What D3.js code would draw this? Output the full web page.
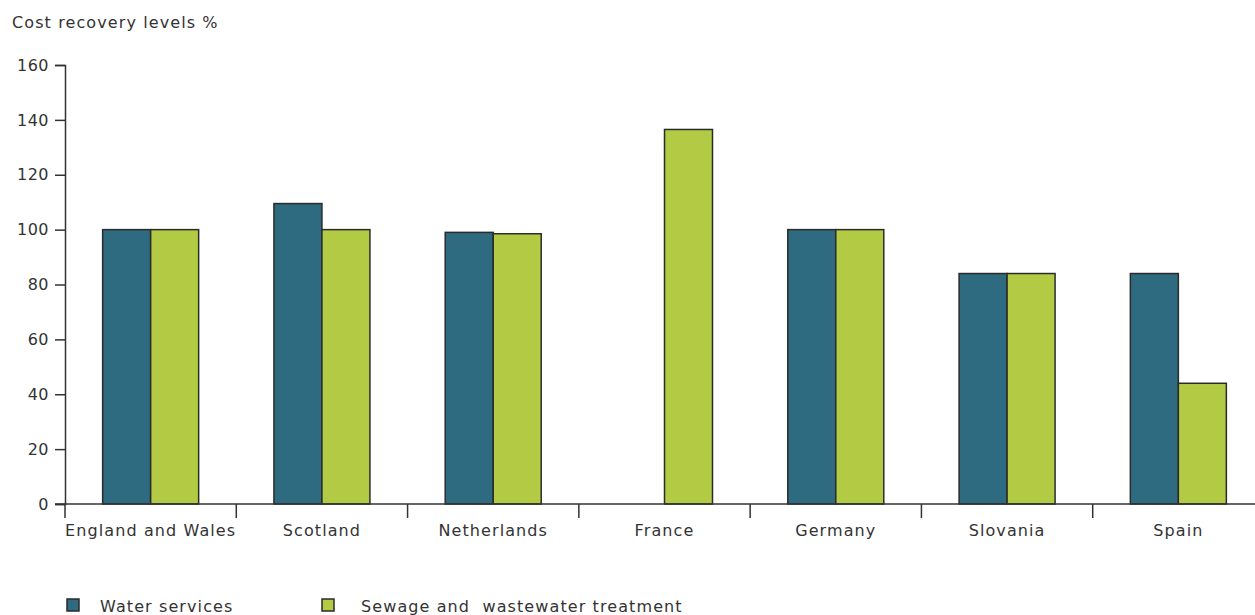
<!DOCTYPE html>
<html>
<head>
<script src="https://d3js.org/d3.v7.min.js"></script>
<style>
  body { margin: 0; background: #fff; }
  text { font-family: "DejaVu Sans", Verdana, sans-serif; fill: #333; letter-spacing: 1.1px; }
</style>
</head>
<body>
<svg class="chart" width="1255" height="615"></svg>
<script>
  var countries = ["England and Wales", "Scotland", "Netherlands", "France", "Germany", "Slovania", "Spain"]
  var water = [100, 109.5, 99, null, 100, 84, 84]
  var sewage = [100, 100, 98.5, 136.5, 100, 84, 44]
  var yTicks = [0, 20, 40, 60, 80, 100, 120, 140, 160]
  var seriesNames = ["Water services", "Sewage and  wastewater treatment"]
  var colors = ["#2f6b80", "#b3cb44"]

  var svg = d3.select("svg")
  var mLeft = 65, mTop = 65, mBottom = 504, mRight = 1264

  var x = d3.scaleBand().domain(countries).range([mLeft, mRight])
  var y = d3.scaleLinear().domain([0, 160]).range([mBottom, mTop])

  var rows = countries.map((c, i) => ({country: c, vals: [water[i], sewage[i]]}))

  // bars
  var barW = 48
  var g = svg.selectAll("g.grp").data(rows).enter().append("g").attr("class", "grp")
  g.selectAll("rect")
    .data(d => d.vals.map((v, k) => ({country: d.country, v: v, k: k})).filter(e => e.v != null))
    .enter().append("rect")
    .attr("x", e => x(e.country) + x.bandwidth() / 2 - barW + e.k * barW)
    .attr("width", barW)
    .attr("y", e => y(e.v))
    .attr("height", e => mBottom - y(e.v))
    .style("fill", e => colors[e.k])
    .style("stroke", "#2b2b2b")
    .style("stroke-width", 1.5)

  // y axis
  var yAxis = d3.axisLeft(y).tickValues(yTicks).tickSize(10).tickPadding(6)
  var ya = svg.append("g").attr("transform", `translate(${mLeft},0)`).call(yAxis)
  ya.selectAll("text").style("font-size", "16px").style("letter-spacing", "0.5px")
  ya.selectAll("line, path").style("stroke", "#333").style("stroke-width", 1.5)

  // x axis
  var xAxis = d3.axisBottom(x).tickSize(0).tickPadding(21)
  var xa = svg.append("g").attr("transform", `translate(0,${mBottom})`).call(xAxis)
  xa.select("path").attr("d", `M${mLeft - 10},0H${mRight}`)
  xa.selectAll("text").style("font-size", "16px")
  xa.selectAll("line, path").style("stroke", "#333").style("stroke-width", 1.5)
  xa.selectAll("line.sep").data(countries.slice(1)).enter().append("line").attr("class", "sep")
    .attr("x1", d => x(d)).attr("x2", d => x(d)).attr("y1", 0).attr("y2", 14)
    .style("stroke", "#333").style("stroke-width", 1.5)
  xa.append("line").attr("x1", mLeft).attr("x2", mLeft).attr("y1", 0).attr("y2", 14)
    .style("stroke", "#333").style("stroke-width", 1.5)

  // title
  svg.append("text").attr("x", 12).attr("y", 28).style("font-size", "16px").text("Cost recovery levels %")

  // legend
  var legX = [67, 322]
  var lg = svg.selectAll("g.leg").data(seriesNames).enter().append("g").attr("class", "leg")
    .attr("transform", (d, i) => `translate(${legX[i]},599)`)
  lg.append("rect").attr("width", 12).attr("height", 12)
    .style("fill", (d, i) => colors[i]).style("stroke", "#2b2b2b").style("stroke-width", 1.5)
  lg.append("text").attr("x", (d, i) => i == 0 ? 33 : 39).attr("y", 13).style("font-size", "16px")
    .style("white-space", "pre").text(d => d)
</script>
</body>
</html>
